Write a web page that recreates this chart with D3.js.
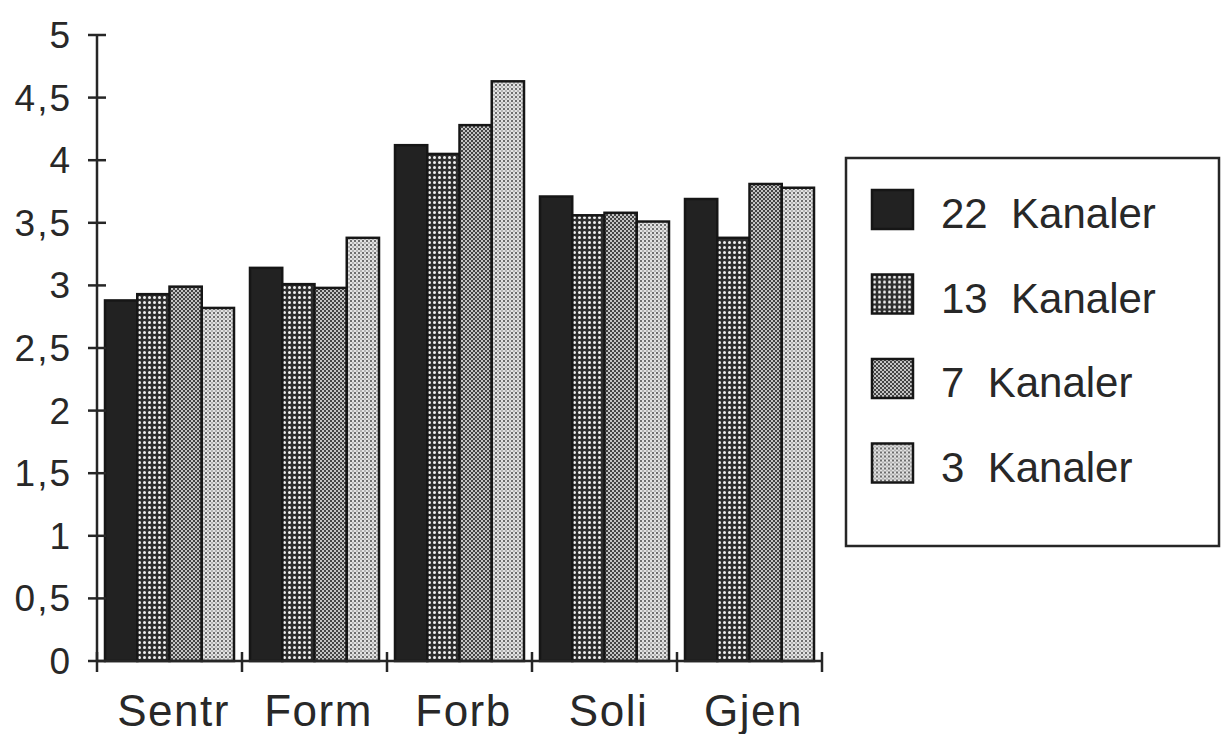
<!DOCTYPE html>
<html>
<head>
<meta charset="utf-8">
<script src="https://cdn.jsdelivr.net/npm/d3@7"></script>
<style>
  body { margin: 0; background: #fff; }
  text { font-family: "Liberation Sans", Arial, sans-serif; fill: #282828; }
</style>
</head>
<body>
<svg id="chart" width="1222" height="734"></svg>
<script>
const categories = ["Sentr", "Form", "Forb", "Soli", "Gjen"];
const seriesNames = ["22 Kanaler", "13 Kanaler", "7 Kanaler", "3 Kanaler"];
const k22 = [2.88, 3.14, 4.12, 3.71, 3.69];
const k13 = [2.93, 3.01, 4.05, 3.56, 3.38];
const k7 = [2.99, 2.98, 4.28, 3.58, 3.81];
const k3 = [2.82, 3.38, 4.63, 3.51, 3.78];
const yTicks = [0, 0.5, 1, 1.5, 2, 2.5, 3, 3.5, 4, 4.5, 5];

const series = [k22, k13, k7, k3];
const fills = ["url(#p22)", "url(#p13)", "url(#p7)", "url(#p3)"];

const svg = d3.select("#chart");
const ink = "#262626";

// fill patterns, a rough take on the halftone screens
const defs = svg.append("defs");
const p22 = defs.append("pattern").attr("id", "p22").attr("patternUnits", "userSpaceOnUse")
  .attr("width", 4).attr("height", 4);
p22.append("rect").attr("width", 4).attr("height", 4).attr("fill", "#222");

const p13 = defs.append("pattern").attr("id", "p13").attr("patternUnits", "userSpaceOnUse")
  .attr("width", 5).attr("height", 5);
p13.append("rect").attr("width", 5).attr("height", 5).attr("fill", "#2e2e2e");
p13.append("circle").attr("cx", 2.5).attr("cy", 2.5).attr("r", 1.5).attr("fill", "#f0f0f0");

const p7 = defs.append("pattern").attr("id", "p7").attr("patternUnits", "userSpaceOnUse")
  .attr("width", 4).attr("height", 4);
p7.append("rect").attr("width", 4).attr("height", 4).attr("fill", "#c4c4c4");
p7.append("rect").attr("width", 2).attr("height", 2).attr("fill", "#444");
p7.append("rect").attr("x", 2).attr("y", 2).attr("width", 2).attr("height", 2).attr("fill", "#444");

const p3 = defs.append("pattern").attr("id", "p3").attr("patternUnits", "userSpaceOnUse")
  .attr("width", 4).attr("height", 4);
p3.append("rect").attr("width", 4).attr("height", 4).attr("fill", "#e2e2e2");
p3.append("rect").attr("width", 2).attr("height", 2).attr("fill", "#6e6e6e");
p3.append("rect").attr("x", 2).attr("y", 2).attr("width", 2).attr("height", 2).attr("fill", "#b4b4b4");

const y = d3.scaleLinear().domain([0, 5]).range([661, 35]);
const x0 = d3.scaleBand().domain(categories).range([97, 822]).padding(0);
const x1 = d3.scaleBand().domain(d3.range(4)).range([8, x0.bandwidth() - 8]).padding(0);

// bars
const groups = svg.append("g").selectAll("g")
  .data(categories)
  .join("g")
  .attr("transform", d => `translate(${x0(d)},0)`);

groups.selectAll("rect")
  .data((d, i) => series.map((s, j) => ({ j, v: s[i] })))
  .join("rect")
  .attr("x", d => x1(d.j))
  .attr("y", d => y(d.v))
  .attr("width", x1.bandwidth())
  .attr("height", d => y(0) - y(d.v))
  .attr("fill", d => fills[d.j])
  .attr("stroke", "#161616")
  .attr("stroke-width", 2.5);

// y axis, ticks crossing the line
const yAxis = svg.append("g").attr("transform", "translate(97,0)");
yAxis.append("line").attr("y1", y(5)).attr("y2", y(0)).attr("stroke", ink).attr("stroke-width", 2.5);
yAxis.selectAll(".tk").data(yTicks).join("line")
  .attr("x1", -9).attr("x2", 9)
  .attr("y1", d => y(d)).attr("y2", d => y(d))
  .attr("stroke", ink).attr("stroke-width", 2.5);
yAxis.selectAll(".lb").data(yTicks).join("text")
  .attr("x", -25).attr("y", d => y(d) + 13)
  .attr("text-anchor", "end")
  .attr("font-size", 37)
  .attr("letter-spacing", 2)
  .text(d => d3.format(".1~f")(d).replace(".", ","));

// x axis
const xAxis = svg.append("g").attr("transform", `translate(0,${y(0)})`);
xAxis.append("line").attr("x1", 97).attr("x2", 822).attr("stroke", ink).attr("stroke-width", 2.5);
const xTicks = categories.map(c => x0(c)).concat([822]);
xAxis.selectAll(".tk").data(xTicks).join("line")
  .attr("x1", d => d).attr("x2", d => d)
  .attr("y1", -9).attr("y2", 11)
  .attr("stroke", ink).attr("stroke-width", 2.5);
xAxis.selectAll(".lb").data(categories).join("text")
  .attr("x", d => x0(d) + x0.bandwidth() / 2 + 4)
  .attr("y", 65)
  .attr("text-anchor", "middle")
  .attr("font-size", 44)
  .attr("letter-spacing", 1.5)
  .text(d => d);

// legend
const legend = svg.append("g");
legend.append("rect")
  .attr("x", 846).attr("y", 158).attr("width", 373).attr("height", 388)
  .attr("fill", "none").attr("stroke", ink).attr("stroke-width", 2.5);
const rows = legend.selectAll(".row").data(seriesNames).join("g")
  .attr("transform", (d, i) => `translate(872,${190 + i * 84.5})`);
rows.append("rect")
  .attr("width", 41).attr("height", 39)
  .attr("fill", (d, i) => fills[i])
  .attr("stroke", "#161616").attr("stroke-width", 2.5);
rows.append("text")
  .attr("x", 69).attr("y", 38)
  .attr("font-size", 42)
  .attr("style", "white-space: pre")
  .text(d => d.replace(" ", "  "));
</script>
</body>
</html>
